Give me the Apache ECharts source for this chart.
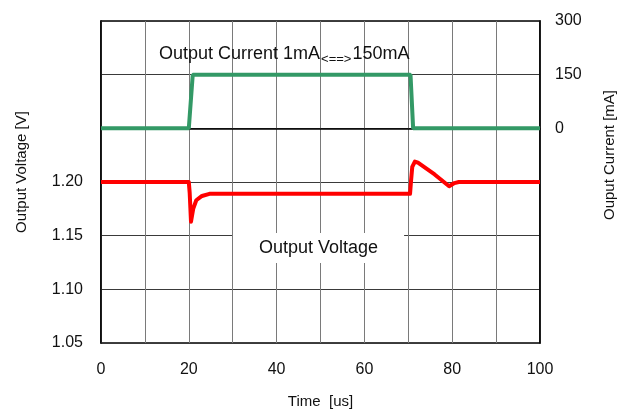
<!DOCTYPE html>
<html>
<head>
<meta charset="utf-8">
<script src="https://cdn.jsdelivr.net/npm/echarts@6/dist/echarts.min.js"></script>
<style>
  html, body { margin: 0; padding: 0; background: #fff; overflow: hidden; }
  #chart { width: 618px; height: 409px; }
</style>
</head>
<body>
<div id="chart"></div>
<script>
// time axis [us]
const timeTicks = [0, 20, 40, 60, 80, 100];

// output voltage trace [V]
const voltageTime = [0, 20.0, 20.2, 20.5, 21.0, 21.7, 23.0, 24.7, 70.4, 70.6, 70.9, 71.5, 72.2, 76.0, 79.3, 80.5, 81.5, 100];
const voltageValues = [1.200, 1.200, 1.190, 1.163, 1.175, 1.183, 1.187, 1.189, 1.189, 1.200, 1.214, 1.219, 1.218, 1.207, 1.196, 1.199, 1.200, 1.200];

// output current trace [mA]
const currentTime = [0, 20.0, 20.9, 70.5, 71.1, 100];
const currentValues = [0, 0, 150, 150, 0, 0];

const FONT = "Liberation Sans";
const COLORS = {
  voltage: "#ff0000",
  current: "#339966",
  text: "#111",
};

const chart = echarts.init(document.getElementById("chart"));

const option = {
  animation: false,
  backgroundColor: "#fff",
  textStyle: { fontFamily: FONT, color: COLORS.text },
  grid: {
    left: 101,
    right: 78,
    top: 21,
    bottom: 66,
    outerBoundsMode: "none",
    show: true,
    borderColor: "#000",
    borderWidth: 1.5,
  },
  xAxis: {
    type: "value",
    min: 0,
    max: 100,
    interval: 10,
    name: "Time  [us]",
    nameLocation: "middle",
    nameGap: 51,
    nameTextStyle: { fontFamily: FONT, fontSize: 15, color: COLORS.text },
    axisLine: { show: true, lineStyle: { color: "#000", width: 1.5 } },
    axisTick: { show: false },
    axisLabel: {
      margin: 19,
      fontFamily: FONT,
      fontSize: 16,
      color: COLORS.text,
      formatter: (v) => (timeTicks.includes(v) ? String(v) : ""),
    },
    splitLine: { show: true, lineStyle: { color: "#7a7a7a", width: 1 } },
  },
  yAxis: [
    {
      type: "value",
      position: "left",
      min: 1.05,
      max: 1.35,
      interval: 0.05,
      name: "Output Voltage [V]",
      nameLocation: "middle",
      nameRotate: 90,
      nameGap: 72,
      nameTextStyle: { fontFamily: FONT, fontSize: 15, color: COLORS.text, padding: [0, 0, 0, 20] },
      axisLine: { show: true, lineStyle: { color: "#000", width: 1.5 } },
      axisTick: { show: false },
      axisLabel: {
        margin: 18,
        fontFamily: FONT,
        fontSize: 16,
        color: COLORS.text,
        formatter: (v) => (v <= 1.2001 ? v.toFixed(2) : ""),
      },
      splitLine: { show: true, lineStyle: { color: "#3a3a3a", width: 1 } },
    },
    {
      type: "value",
      position: "right",
      min: -600,
      max: 300,
      interval: 150,
      name: "Ouput Current [mA]",
      nameLocation: "middle",
      nameRotate: 90,
      nameGap: 62,
      nameTextStyle: { fontFamily: FONT, fontSize: 15, color: COLORS.text, padding: [0, 0, 0, 54] },
      axisLine: { show: true, lineStyle: { color: "#000", width: 1.5 } },
      axisTick: { show: false },
      axisLabel: {
        margin: 15,
        fontFamily: FONT,
        fontSize: 16,
        color: COLORS.text,
        formatter: (v) => (v >= 0 ? String(v) : ""),
      },
      splitLine: { show: false },
    },
  ],
  graphic: [
    {
      type: "text",
      left: 159,
      top: 45,
      z: 10,
      style: {
        text: "{a|Output Current 1mA}{b|<==>}{a|150mA}",
        rich: {
          a: { fontFamily: FONT, fontSize: 18, fill: COLORS.text, verticalAlign: "bottom" },
          b: { fontFamily: FONT, fontSize: 13, fill: COLORS.text, verticalAlign: "bottom", padding: [0, 1, -3, 1] },
        },
      },
    },
    {
      type: "text",
      left: 233,
      top: 233,
      z: 10,
      style: {
        text: "Output Voltage",
        fontFamily: FONT,
        fontSize: 18,
        fill: COLORS.text,
        backgroundColor: "#fff",
        padding: [6, 26, 6, 26],
      },
    },
  ],
  series: [
    {
      name: "Output Current",
      type: "line",
      yAxisIndex: 1,
      symbol: "none",
      data: currentTime.map((t, i) => [t, currentValues[i]]),
      lineStyle: { color: COLORS.current, width: 4 },
      z: 3,
    },
    {
      name: "Output Voltage",
      type: "line",
      yAxisIndex: 0,
      symbol: "none",
      data: voltageTime.map((t, i) => [t, voltageValues[i]]),
      lineStyle: { color: COLORS.voltage, width: 4, join: "round" },
      z: 4,
    },
  ],
};

chart.setOption(option);
</script>
</body>
</html>
